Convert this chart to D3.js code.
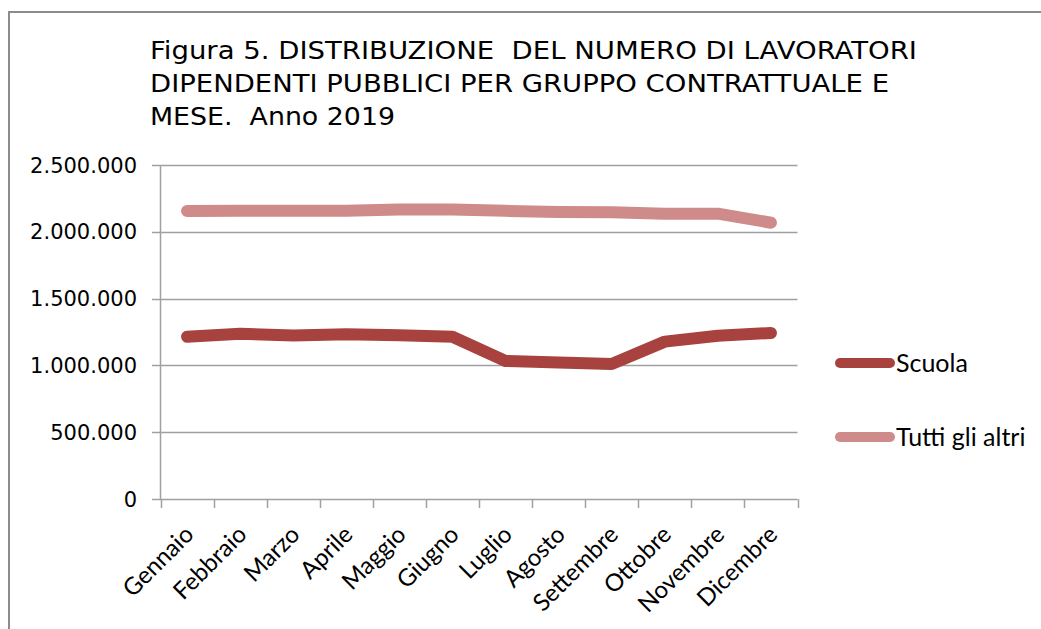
<!DOCTYPE html>
<html>
<head>
<meta charset="utf-8">
<script src="https://cdn.jsdelivr.net/npm/d3@7"></script>
<style>
  body { margin: 0; background: #fff; }
</style>
</head>
<body>
<div id="chart"></div>
<script>
var width = 1041;
var height = 629;

var months = ["Gennaio", "Febbraio", "Marzo", "Aprile", "Maggio", "Giugno",
    "Luglio", "Agosto", "Settembre", "Ottobre", "Novembre", "Dicembre"];
var scuola = [1215000, 1237000, 1224000, 1233000, 1225000, 1215000,
    1033000, 1022000, 1010000, 1178000, 1222000, 1243000];
var altri = [2155000, 2157000, 2157000, 2158000, 2166000, 2167000,
    2157000, 2148000, 2147000, 2136000, 2136000, 2068000];
var yTicks = [0, 500000, 1000000, 1500000, 2000000, 2500000];
var seriesNames = ["Scuola", "Tutti gli altri"];
var titleLines = ["Figura 5. DISTRIBUZIONE  DEL NUMERO DI LAVORATORI",
    "DIPENDENTI PUBBLICI PER GRUPPO CONTRATTUALE E",
    "MESE.  Anno 2019"];
var titleWidths = [767, 739, 245];

var colors = ["#a8423f", "#cf8a8a"];

var svg = d3.select("#chart")
    .append("svg")
    .attr("width", width)
    .attr("height", height);

// outer frame
svg.append("rect")
    .attr("x", 9)
    .attr("y", 12)
    .attr("width", width + 20)
    .attr("height", height + 20)
    .style("fill", "none")
    .style("stroke", "#8c8c8c")
    .style("stroke-width", 2);

// title
svg.append("g").selectAll("text")
    .data(titleLines)
    .enter()
    .append("text")
    .attr("x", 150)
    .attr("y", function (d, i) { return 59 + i * 33; })
    .attr("textLength", function (d, i) { return titleWidths[i]; })
    .attr("lengthAdjust", "spacingAndGlyphs")
    .style("white-space", "pre")
    .style("font-family", "'DejaVu Sans', Verdana, sans-serif")
    .style("font-size", "24px")
    .style("fill", "#000")
    .text(function (d) { return d; });

var x = d3.scaleBand()
    .domain(months)
    .range([160.5, 797.5]);

var y = d3.scaleLinear()
    .domain([0, 2500000])
    .range([499, 165]);

var fmt = function (v) { return d3.format(",")(v).replace(/,/g, "."); };

// gridlines
svg.append("g")
    .selectAll("line")
    .data(yTicks)
    .enter()
    .append("line")
    .attr("x1", 152)
    .attr("x2", 797.5)
    .attr("y1", function (d) { return Math.round(y(d)) + 0.5; })
    .attr("y2", function (d) { return Math.round(y(d)) + 0.5; })
    .style("stroke", "#a0a0a0")
    .style("stroke-width", 1.5);

// y axis line
svg.append("line")
    .attr("x1", 160.5).attr("x2", 160.5)
    .attr("y1", 165).attr("y2", 499)
    .style("stroke", "#a0a0a0")
    .style("stroke-width", 1.5);

// y labels
svg.append("g")
    .selectAll("text")
    .data(yTicks)
    .enter()
    .append("text")
    .attr("x", 137)
    .attr("y", function (d) { return y(d); })
    .attr("dy", "0.36em")
    .attr("text-anchor", "end")
    .style("font-family", "'DejaVu Sans', Verdana, sans-serif")
    .style("font-size", "21px")
    .style("fill", "#000")
    .text(fmt);

// x ticks
var tickPos = months.map(function (m) { return x(m); }).concat([x.range()[1]]);
svg.append("g")
    .selectAll("line")
    .data(tickPos)
    .enter()
    .append("line")
    .attr("x1", function (d) { return Math.round(d) + 0.5; })
    .attr("x2", function (d) { return Math.round(d) + 0.5; })
    .attr("y1", 499)
    .attr("y2", 508)
    .style("stroke", "#a0a0a0")
    .style("stroke-width", 1.5);

// x labels
svg.append("g")
    .selectAll("text")
    .data(months)
    .enter()
    .append("text")
    .attr("text-anchor", "end")
    .attr("transform", function (d) {
        var cx = x(d) + x.bandwidth() / 2 + 8;
        return "translate(" + cx + ",536) rotate(-45)";
    })
    .style("font-family", "Lato, 'Open Sans', sans-serif")
    .style("font-size", "24px")
    .style("fill", "#000")
    .text(function (d) { return d; });

// lines
var line = d3.line()
    .x(function (d, i) { return x(months[i]) + x.bandwidth() / 2; })
    .y(function (d) { return y(d); });

[scuola, altri].forEach(function (vals, k) {
    svg.append("path")
        .datum(vals)
        .attr("d", line)
        .style("fill", "none")
        .style("stroke", colors[k])
        .style("stroke-width", 12)
        .style("stroke-linecap", "round")
        .style("stroke-linejoin", "round");
});

// legend
var legend = svg.append("g")
    .selectAll("g")
    .data(seriesNames)
    .enter()
    .append("g")
    .attr("transform", function (d, i) { return "translate(0," + (363 + i * 74) + ")"; });

legend.append("line")
    .attr("x1", 840).attr("x2", 890)
    .attr("y1", 0).attr("y2", 0)
    .style("stroke", function (d, i) { return colors[i]; })
    .style("stroke-width", 10)
    .style("stroke-linecap", "round");

legend.append("text")
    .attr("x", 896)
    .attr("y", 0)
    .attr("dy", "0.35em")
    .style("font-family", "Lato, 'Open Sans', sans-serif")
    .style("font-size", "25px")
    .style("fill", "#000")
    .text(function (d) { return d; });
</script>
</body>
</html>
